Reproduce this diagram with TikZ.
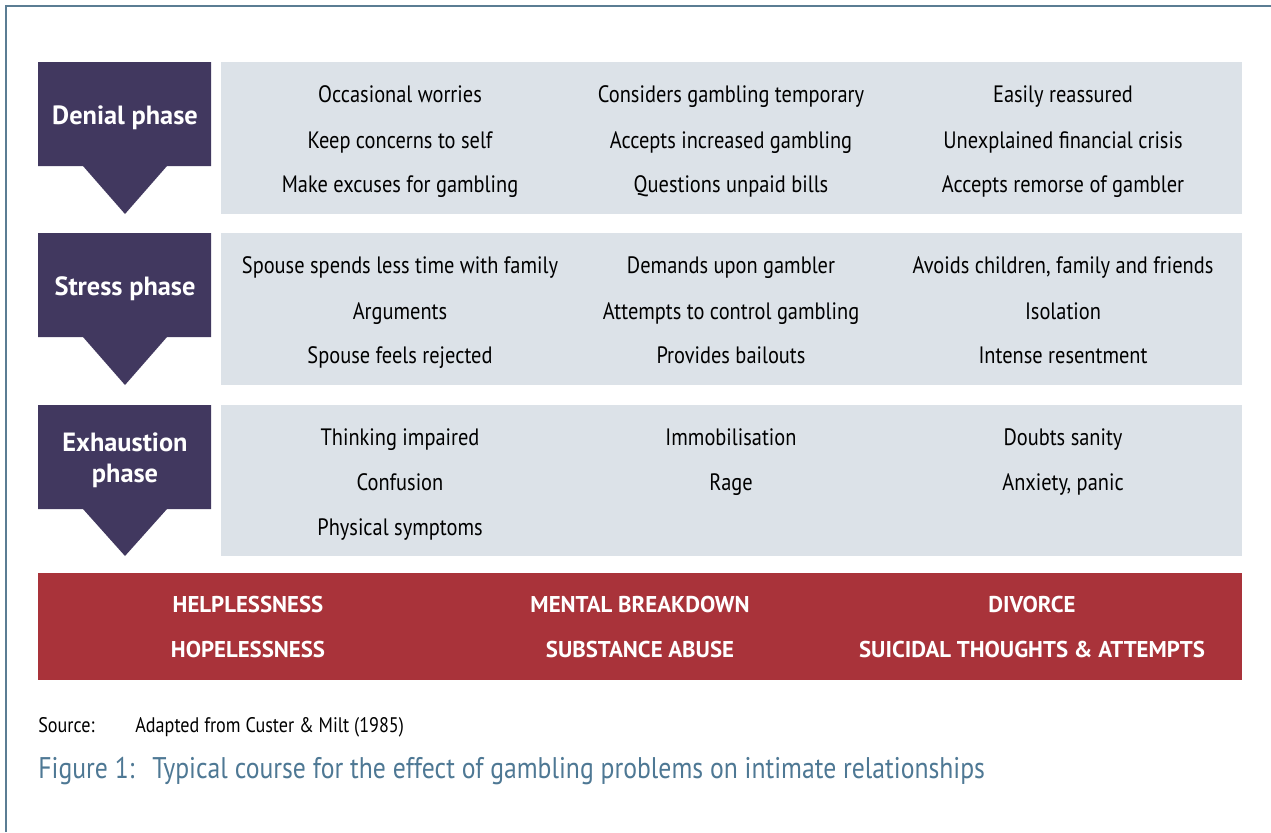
\documentclass[tikz,border=0pt]{standalone}
\usepackage{fontspec}
\setmainfont[FakeStretch=0.86]{PT Sans}
\newfontfamily\widefont{PT Sans}
\usetikzlibrary{positioning}
\definecolor{phasecol}{HTML}{41385F}
\definecolor{panelcol}{HTML}{DCE2E8}
\definecolor{outcomecol}{HTML}{A9333A}
\definecolor{framecol}{HTML}{5B7D93}
\definecolor{captioncol}{HTML}{4E7894}
\tikzset{
  item/.style={anchor=base,inner sep=0pt,font=\fontsize{13.5}{16}\selectfont},
  phaselabel/.style={anchor=base,inner sep=0pt,text=white,font=\widefont\fontsize{15}{18}\selectfont\bfseries},
  outcome/.style={anchor=base,inner sep=0pt,text=white,font=\widefont\fontsize{13}{16}\selectfont\bfseries},
  source/.style={anchor=base west,inner sep=0pt,font=\fontsize{12}{14}\selectfont},
  caption/.style={anchor=base west,inner sep=0pt,text=captioncol,font=\fontsize{17}{20}\selectfont}
}
\begin{document}
\begin{tikzpicture}[x=0.02cm,y=-0.02cm]
  \useasboundingbox (0,0) rectangle (1271,832);
  \draw[framecol,line width=1.5pt] (6,832) -- (6,6) -- (1271,6);

  \fill[phasecol] (38,62) -- (211,62) -- (211,166) -- (167,166) -- (125,214)
    -- (83,166) -- (38,166) -- cycle;
  \fill[phasecol] (38,233) -- (211,233) -- (211,337) -- (167,337) -- (125,385)
    -- (83,337) -- (38,337) -- cycle;
  \fill[phasecol] (38,405) -- (211,405) -- (211,509) -- (167,509) -- (125,556)
    -- (83,509) -- (38,509) -- cycle;
  \fill[panelcol] (221,62) rectangle (1242,214);
  \fill[panelcol] (221,233) rectangle (1242,385);
  \fill[panelcol] (221,405) rectangle (1242,556);
  \fill[outcomecol] (38,573) rectangle (1242,680);

  \node[phaselabel] (denial) at (125,124) {Denial phase};
  \node[phaselabel] (stress) at (125,295) {Stress phase};
  \node[phaselabel] (exhaust) at (125,451) {Exhaustion};
  \node[phaselabel] (exhaustb) at (125,482) {phase};

  \node[item] (d1) at (400,102) {Occasional worries};
  \node[item] (d2) at (400,148) {Keep concerns to self};
  \node[item] (d3) at (400,192) {Make excuses for gambling};
  \node[item] (d4) at (731,102) {Considers gambling temporary};
  \node[item] (d5) at (731,148) {Accepts increased gambling};
  \node[item] (d6) at (731,192) {Questions unpaid bills};
  \node[item] (d7) at (1063,102) {Easily reassured};
  \node[item] (d8) at (1063,148) {Unexplained financial crisis};
  \node[item] (d9) at (1063,192) {Accepts remorse of gambler};

  \node[item] (s1) at (400,273) {Spouse spends less time with family};
  \node[item] (s2) at (400,319) {Arguments};
  \node[item] (s3) at (400,363) {Spouse feels rejected};
  \node[item] (s4) at (731,273) {Demands upon gambler};
  \node[item] (s5) at (731,319) {Attempts to control gambling};
  \node[item] (s6) at (731,363) {Provides bailouts};
  \node[item] (s7) at (1063,273) {Avoids children, family and friends};
  \node[item] (s8) at (1063,319) {Isolation};
  \node[item] (s9) at (1063,363) {Intense resentment};

  \node[item] (e1) at (400,445) {Thinking impaired};
  \node[item] (e2) at (400,490) {Confusion};
  \node[item] (e3) at (400,535) {Physical symptoms};
  \node[item] (e4) at (731,445) {Immobilisation};
  \node[item] (e5) at (731,490) {Rage};
  \node[item] (e7) at (1063,445) {Doubts sanity};
  \node[item] (e8) at (1063,490) {Anxiety, panic};

  \node[outcome] (o1) at (248,612) {HELPLESSNESS};
  \node[outcome] (o2) at (248,657) {HOPELESSNESS};
  \node[outcome] (o3) at (640,612) {MENTAL BREAKDOWN};
  \node[outcome] (o4) at (640,657) {SUBSTANCE ABUSE};
  \node[outcome] (o5) at (1032,612) {DIVORCE};
  \node[outcome] (o6) at (1032,657) {SUICIDAL THOUGHTS \& ATTEMPTS};

  \node[source] (src) at (38,732) {Source:};
  \node[source] (srcref) at (135,732) {Adapted from Custer \& Milt (1985)};
  \node[caption] (fig) at (38,778) {Figure 1:};
  \node[caption] (figtext) at (152,778) {Typical course for the effect of gambling problems on intimate relationships};
\end{tikzpicture}
\end{document}
